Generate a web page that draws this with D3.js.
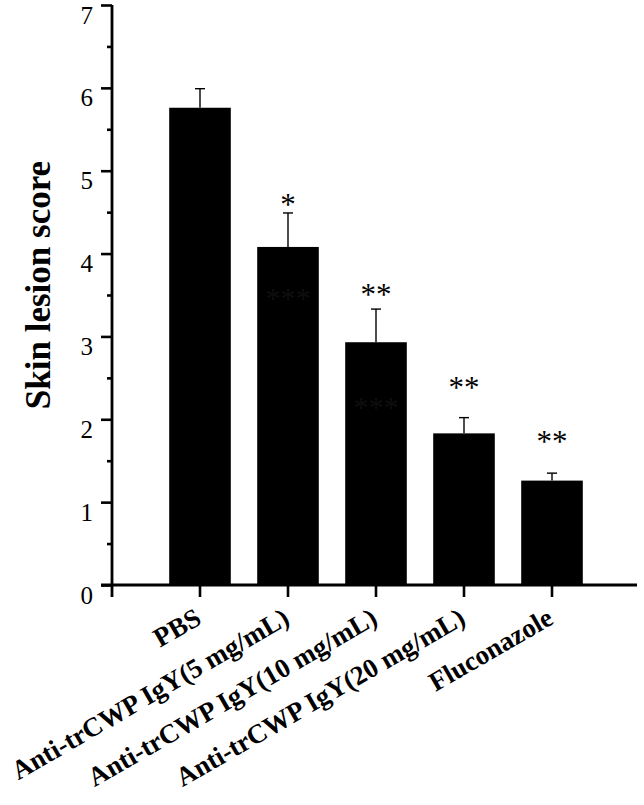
<!DOCTYPE html>
<html>
<head>
<meta charset="utf-8">
<script src="https://cdn.jsdelivr.net/npm/d3@7"></script>
<style>
  body { margin: 0; background: #fff; }
  svg { display: block; }
</style>
</head>
<body>
<svg id="chart" width="644" height="805"></svg>
<script>
// data
var groups = ["PBS", "Anti-trCWP IgY(5 mg/mL)", "Anti-trCWP IgY(10 mg/mL)", "Anti-trCWP IgY(20 mg/mL)", "Fluconazole"];
var means = [5.76, 4.08, 2.93, 1.83, 1.26];
var errors = [0.23, 0.41, 0.40, 0.19, 0.09];
var stars = ["", "*", "**", "**", "**"];
var starLevels = [null, 4.65, 3.56, 2.44, 1.79];
// faint marks barely visible inside two of the bars
var faintStars = ["", "***", "***", "", ""];
var faintLevels = [null, 3.52, 2.21, null, null];
var yTicks = [0, 1, 2, 3, 4, 5, 6, 7];
var yMinorTicks = [0.5, 1.5, 2.5, 3.5, 4.5, 5.5, 6.5];

var svg = d3.select("#chart");
var serif = "'Liberation Serif', 'Times New Roman', serif";

var x0 = 112, x1 = 637, yTop = 5, yBase = 585;

var y = d3.scaleLinear().domain([0, 7]).range([yBase, yTop]);
var x = d3.scaleBand()
    .domain(groups)
    .range([156, 596])
    .paddingInner(0.3)
    .paddingOuter(0.15);

// bars
svg.append("g")
    .selectAll("rect")
    .data(groups)
    .enter()
    .append("rect")
    .attr("x", function(d) { return x(d); })
    .attr("width", x.bandwidth())
    .attr("y", function(d, i) { return y(means[i]); })
    .attr("height", function(d, i) { return yBase - y(means[i]); })
    .attr("fill", "#000");

// error bars (upper only)
var eb = svg.append("g").attr("stroke", "#000").attr("stroke-width", 1.4);
groups.forEach(function(g, i) {
    var cx = x(g) + x.bandwidth() / 2;
    eb.append("line")
        .attr("x1", cx).attr("x2", cx)
        .attr("y1", y(means[i])).attr("y2", y(means[i] + errors[i]));
    eb.append("line")
        .attr("x1", cx - 5).attr("x2", cx + 5)
        .attr("y1", y(means[i] + errors[i])).attr("y2", y(means[i] + errors[i]));
});

// significance stars
svg.append("g")
    .selectAll("text")
    .data(groups)
    .enter()
    .append("text")
    .attr("x", function(d) { return x(d) + x.bandwidth() / 2; })
    .attr("y", function(d, i) { return starLevels[i] == null ? 0 : y(starLevels[i]) + 15; })
    .attr("text-anchor", "middle")
    .style("font-family", serif)
    .style("font-size", "31px")
    .attr("fill", "#000")
    .text(function(d, i) { return stars[i]; });

svg.append("g")
    .selectAll("text")
    .data(groups)
    .enter()
    .append("text")
    .attr("x", function(d) { return x(d) + x.bandwidth() / 2; })
    .attr("y", function(d, i) { return faintLevels[i] == null ? 0 : y(faintLevels[i]) + 15; })
    .attr("text-anchor", "middle")
    .style("font-family", serif)
    .style("font-size", "30px")
    .attr("fill", "#0f0f0f")
    .text(function(d, i) { return faintStars[i]; });

// y axis
var yAxis = svg.append("g")
    .attr("transform", "translate(" + x0 + ",0)")
    .call(d3.axisLeft(y).tickValues(yTicks).tickSize(11).tickPadding(8).tickFormat(d3.format("d")));
yAxis.select(".domain").remove();
yAxis.selectAll(".tick line").attr("stroke-width", 2.6);
yAxis.selectAll(".tick text")
    .attr("dy", "0.72em")
    .style("font-family", serif)
    .style("font-size", "25px")
    .attr("fill", "#000");

var yMinor = svg.append("g")
    .attr("transform", "translate(" + x0 + ",0)")
    .call(d3.axisLeft(y).tickValues(yMinorTicks).tickSize(5).tickFormat(""));
yMinor.select(".domain").remove();
yMinor.selectAll(".tick line").attr("stroke-width", 2.6);

// x axis ticks
var xAxis = svg.append("g")
    .attr("transform", "translate(0," + yBase + ")")
    .call(d3.axisBottom(x).tickSize(12).tickFormat(""));
xAxis.select(".domain").remove();
xAxis.selectAll(".tick line").attr("stroke-width", 2.6);

// axis lines
svg.append("line")
    .attr("x1", x0).attr("x2", x0)
    .attr("y1", yTop).attr("y2", yBase + 12)
    .attr("stroke", "#000").attr("stroke-width", 2.8);
svg.append("line")
    .attr("x1", x0 - 11).attr("x2", x1)
    .attr("y1", yBase).attr("y2", yBase)
    .attr("stroke", "#000").attr("stroke-width", 2.8);

// rotated category labels
svg.append("g")
    .selectAll("text")
    .data(groups)
    .enter()
    .append("text")
    .attr("transform", function(d) {
        return "translate(" + (x(d) + x.bandwidth() / 2 + 3) + "," + (yBase + 38) + ") rotate(-30)";
    })
    .attr("text-anchor", "end")
    .style("font-family", serif)
    .style("font-weight", "bold")
    .style("font-size", "27px")
    .attr("fill", "#000")
    .text(function(d) { return d; });

// y label
svg.append("text")
    .attr("transform", "translate(50," + 285 + ") rotate(-90)")
    .attr("text-anchor", "middle")
    .style("font-family", serif)
    .style("font-weight", "bold")
    .style("font-size", "35px")
    .attr("fill", "#000")
    .text("Skin lesion score");
</script>
</body>
</html>
